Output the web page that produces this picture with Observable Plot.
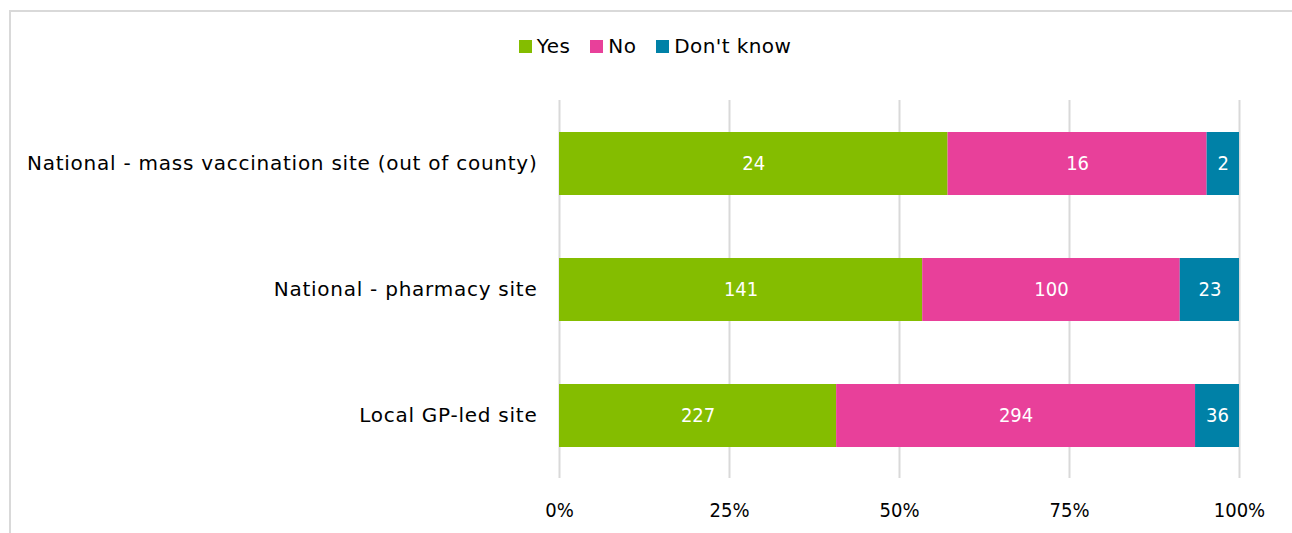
<!DOCTYPE html>
<html>
<head>
<meta charset="utf-8">
<script src="https://cdn.jsdelivr.net/npm/d3@7"></script>
<script src="https://cdn.jsdelivr.net/npm/@observablehq/plot@0.6"></script>
<style>
  html, body { margin: 0; padding: 0; background: #fff; }
  body { width: 1292px; height: 533px; overflow: hidden; font-family: "DejaVu Sans", sans-serif; }
  #frame { position: absolute; left: 9px; top: 10px; right: -5px; bottom: -5px; border-top: 2px solid #d9d9d9; border-left: 2px solid #d9d9d9; }
  #legend { position: absolute; top: 34px; left: 0; width: 1310px; display: flex; justify-content: center; gap: 20px; font-size: 20px; letter-spacing: 0.4px; color: #000; }
  #legend .item { display: flex; align-items: center; gap: 5px; }
  #legend .sw { width: 13px; height: 13px; display: inline-block; }
  #chart { position: absolute; top: 100px; left: 0; }
  #chart svg [aria-label="y-axis tick label"] text { font-family: "DejaVu Sans", sans-serif; letter-spacing: 0.75px; }
</style>
</head>
<body>
<div id="frame"></div>
<div id="legend"></div>
<div id="chart"></div>
<script>
// Vaccination site types, top to bottom
const sites = [
  "National - mass vaccination site (out of county)",
  "National - pharmacy site",
  "Local GP-led site"
];
const answers = ["Yes", "No", "Don't know"];
const colors = ["#84bd00", "#e8409a", "#0081a7"];

// Response counts per site, in the order of answers
const yesCounts = [24, 141, 227];
const noCounts = [16, 100, 294];
const dontKnowCounts = [2, 23, 36];

const xTicks = [0, 0.25, 0.5, 0.75, 1];
const xTickLabels = ["0%", "25%", "50%", "75%", "100%"];

const rows = [];
sites.forEach((site, i) => {
  [yesCounts, noCounts, dontKnowCounts].forEach((series, j) => {
    rows.push({site, answer: answers[j], value: series[i]});
  });
});

// Legend
const legend = document.getElementById("legend");
answers.forEach((a, i) => {
  const item = document.createElement("div");
  item.className = "item";
  const sw = document.createElement("span");
  sw.className = "sw";
  sw.style.background = colors[i];
  const label = document.createElement("span");
  label.textContent = a;
  item.append(sw, label);
  legend.append(item);
});

const stack = {x: "value", y: "site", z: "answer", order: answers, offset: "normalize"};

const chart = Plot.plot({
  width: 1292,
  height: 433,
  marginTop: 0,
  marginBottom: 55,
  marginLeft: 559,
  marginRight: 53,
  style: {fontFamily: "\"DejaVu Sans Condensed\", \"DejaVu Sans\", sans-serif", fontSize: "20px", color: "#000", background: "transparent"},
  x: {domain: [0, 1], ticks: xTicks, tickFormat: (d) => xTickLabels[xTicks.indexOf(d)], tickSize: 0, tickPadding: 24, label: null},
  y: {domain: sites, paddingInner: 0.5, paddingOuter: 0.25, tickSize: 0, tickPadding: 22, label: null},
  color: {domain: answers, range: colors},
  marks: [
    Plot.ruleX(xTicks, {stroke: "#d9d9d9", strokeWidth: 2}),
    Plot.barX(rows, Plot.stackX({...stack, fill: "answer"})),
    Plot.text(rows, Plot.stackX({...stack, text: (d) => String(d.value), fill: "white", fontSize: 20}))
  ]
});
document.getElementById("chart").append(chart);
</script>
</body>
</html>
